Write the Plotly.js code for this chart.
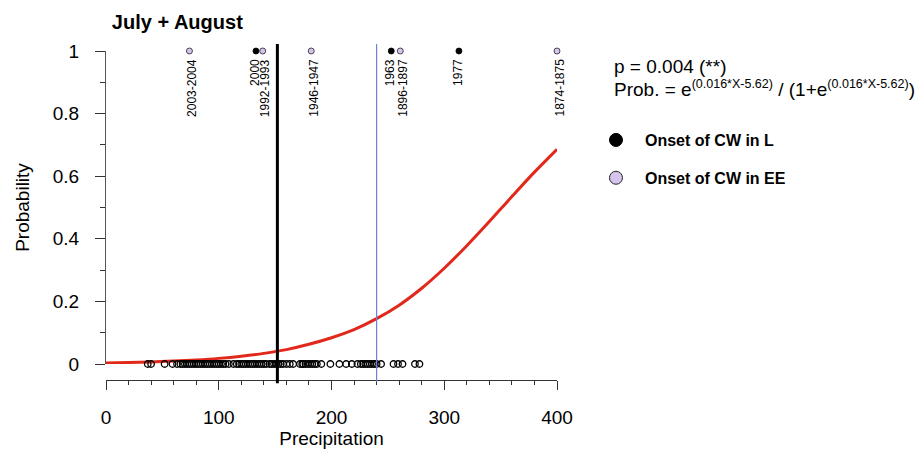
<!DOCTYPE html>
<html><head><meta charset="utf-8">
<script src="https://cdn.plot.ly/plotly-3.0.1.min.js"></script>
<style>html,body{margin:0;padding:0;background:#fff}</style>
</head><body><div id="chart" style="width:917px;height:449px"></div>
<script>
// Fitted logistic curve
const curveX = [0,20,40,60,80,100,120,140,160,180,200,220,240,260,280,300,320,340,360,380,400];
const curveY = [0.0036,0.005,0.0068,0.0094,0.013,0.018,0.025,0.034,0.046,0.063,0.084,0.11,0.145,0.188,0.242,0.306,0.378,0.455,0.535,0.613,0.686];

// Years without onset (probability 0): precipitation values
const noOnsetX = [37,40,52,59,63,66,68,70,72,74,76,78,80,82,84,86,88,90,92,94,96,98,100,102,104,106,109,
  113,116,118,120,122,124,126,128,130,132,134,136,138,140,142,145,147,149,151,153,155,157,160,163,166,
  172,174,175,177,179,181,183,185,187,191,199,207,213,218,223,226,228,230,232,234,236,238,240,244,255,259,263,274,278];

// Onset of CW in L (black) and in EE (lavender): precipitation values and labels
const onsetLX = [133, 253, 313];
const onsetLLabels = ['2000', '1963', '1977'];
const onsetEEX = [74, 139, 182, 261, 400];
const onsetEELabels = ['2003-2004', '1992-1993', '1946-1947', '1896-1897', '1874-1875'];

// Reference lines
const blackLineX = 152;
const blueLineX = 240;

const FONT = '"Liberation Sans", Arial, Helvetica, sans-serif';

const traces = [
  {x: curveX, y: curveY, mode: 'lines', line: {color: '#e2281b', width: 3, shape: 'spline', smoothing: 1}, showlegend: false, hoverinfo: 'skip'},
  {x: noOnsetX, y: noOnsetX.map(() => 0), mode: 'markers', cliponaxis: false, showlegend: false,
   marker: {symbol: 'circle-open', size: 6.5, color: '#000', line: {width: 1.3}}},
  {x: onsetLX, y: onsetLX.map(() => 1), mode: 'markers', cliponaxis: false, showlegend: false,
   marker: {symbol: 'circle', size: 6, color: '#000', line: {color: '#000', width: 0.8}}},
  {x: onsetEEX, y: onsetEEX.map(() => 1), mode: 'markers', cliponaxis: false, showlegend: false,
   marker: {symbol: 'circle', size: 6, color: '#d6c3ee', line: {color: '#222', width: 0.8}}},
  // legend entries
  {x: [null], y: [null], mode: 'markers', name: 'Onset of CW in L', legendgroup: 'L',
   marker: {symbol: 'circle', size: 13, color: '#000', line: {color: '#000', width: 1}}},
  {x: [null], y: [null], mode: 'markers', name: 'Onset of CW in EE', legendgroup: 'EE',
   marker: {symbol: 'circle', size: 13, color: '#d6c3ee', line: {color: '#222', width: 1}}}
];

const annotations = [];
onsetLX.forEach((x, i) => annotations.push({x: x, y: 1, xref: 'x', yref: 'y', text: onsetLLabels[i], showarrow: false,
  textangle: -90, xanchor: 'center', yanchor: 'top', yshift: -6, xshift: -1.5, font: {family: FONT, size: 12, color: '#000'}}));
onsetEEX.forEach((x, i) => annotations.push({x: x, y: 1, xref: 'x', yref: 'y', text: onsetEELabels[i], showarrow: false,
  textangle: -90, xanchor: 'center', yanchor: 'top', yshift: -6, xshift: 2.5, font: {family: FONT, size: 12, color: '#000'}}));
const sup = s => '<sup><span style="font-size:12.5px">' + s + '</span></sup>';
annotations.push({xref: 'paper', yref: 'paper', x: 1.122, y: 0.954, xanchor: 'left', yanchor: 'middle', showarrow: false,
  text: 'p = 0.004 (**)', font: {family: FONT, size: 19, color: '#000'}});
annotations.push({xref: 'paper', yref: 'paper', x: 1.122, y: 0.887, xanchor: 'left', yanchor: 'middle', showarrow: false,
  text: 'Prob. = e' + sup('(0.016*X-5.62)') + ' / (1+e' + sup('(0.016*X-5.62)') + ')', font: {family: FONT, size: 19, color: '#000'}});

const layout = {
  width: 917, height: 449,
  margin: {l: 106, r: 360, t: 51, b: 69},
  paper_bgcolor: '#fff', plot_bgcolor: '#fff',
  font: {family: FONT, color: '#000'},
  title: {text: '<b>July + August</b>', x: 0.122, xanchor: 'left', y: 0.951, yanchor: 'middle',
          font: {family: FONT, size: 20, color: '#000'}},
  xaxis: {range: [0, 400], anchor: 'free', position: 0, showgrid: false, zeroline: false,
          showline: true, linecolor: '#333', linewidth: 1,
          tickmode: 'linear', tick0: 0, dtick: 100, ticks: 'outside', ticklen: 9, tickcolor: '#333',
          minor: {dtick: 20, ticks: 'outside', ticklen: 4, tickcolor: '#333'},
          tickfont: {family: FONT, size: 19}, ticklabelstandoff: 11,
          title: {text: 'Precipitation', font: {family: FONT, size: 19}, standoff: 2}},
  yaxis: {range: [0, 1], domain: [0.0486, 1], showgrid: false, zeroline: false,
          showline: true, linecolor: '#555', linewidth: 1,
          tickmode: 'linear', tick0: 0, dtick: 0.2, ticks: 'outside', ticklen: 10, tickcolor: '#333',
          minor: {dtick: 0.1, ticks: 'outside', ticklen: 5, tickcolor: '#333'},
          tickfont: {family: FONT, size: 19}, ticklabelstandoff: 12,
          title: {text: 'Probability', font: {family: FONT, size: 19}, standoff: 18}},
  shapes: [
    {type: 'line', xref: 'x', yref: 'paper', x0: blackLineX, x1: blackLineX, y0: -0.01, y1: 1.021,
     line: {color: '#000', width: 3}, layer: 'above'},
    {type: 'line', xref: 'x', yref: 'paper', x0: blueLineX, x1: blueLineX, y0: -0.005, y1: 1.021,
     line: {color: '#6d80dc', width: 1.2}, layer: 'above'}
  ],
  annotations: annotations,
  showlegend: true,
  legend: {x: 1.0665, xanchor: 'left', y: 0.781, yanchor: 'top', itemwidth: 48, tracegroupgap: 14,
           traceorder: 'grouped', font: {family: FONT, size: 16, color: '#000', weight: 'bold'},
           bgcolor: 'rgba(0,0,0,0)'}
};

Plotly.newPlot('chart', traces, layout, {displayModeBar: false, staticPlot: true});
</script></body></html>
